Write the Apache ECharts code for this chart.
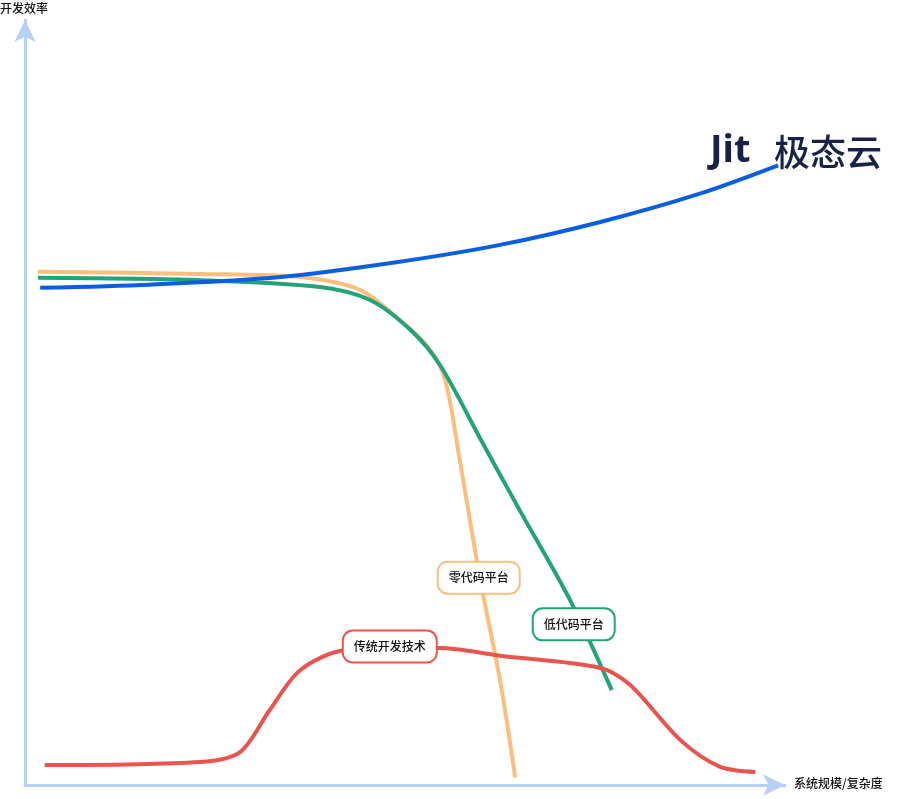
<!DOCTYPE html><html><head><meta charset="utf-8">
<script src="https://cdn.jsdelivr.net/npm/echarts@6/dist/echarts.min.js"></script>
<style>html,body{margin:0;background:#fff}#c{width:899px;height:799px}</style></head><body><div id="c"></div>
<script>
const blue=[[2.0,65.0],[16.4,65.4],[33.6,66.4],[49.3,68.4],[62.5,70.6],[75.7,73.6],[88.8,77.3],[99.1,81.0]];
const orange=[[1.7,67.1],[23,66.8],[36.2,66.4],[44.1,64.7],[49.3,60.8],[53.3,56.9],[55.3,52.9],[57.2,42.5],[59.9,26.8],[62.5,13.7],[64.5,1.0]];
const green=[[1.7,66.3],[23,66],[38.8,65.1],[45.4,63.4],[50.7,59.5],[54.6,54.9],[60,45.1],[65.1,35.9],[71.7,24.2],[77.2,12.4]];
const red=[[2.6,2.6],[23,3.0],[28.3,4.3],[32.2,9.8],[36.2,15.0],[42.1,17.6],[54.6,17.9],[62.5,16.9],[75.7,15.3],[79.6,13.1],[86.2,5.9],[91.4,2.4],[96.1,1.7]];
const labelNames=['传统开发技术','零代码平台','低代码平台'];
const labelPos=[[48.0,18.1],[59.7,27.1],[72.2,21.0]];
const labelColors=['#e8554e','#fbbf7d','#23a37a'];

const ch=echarts.init(document.getElementById('c'));
const line=(d,c)=>({type:'line',data:d,smooth:0.3,symbol:'none',lineStyle:{color:c,width:4},z:2});
ch.setOption({animation:false,
grid:{left:25,right:114,top:20,bottom:14},
xAxis:{type:'value',min:0,max:100,splitLine:{show:false},axisTick:{show:false},axisLabel:{show:false},
 axisLine:{lineStyle:{color:'#b8d0f5',width:3},symbol:['none','arrow'],symbolSize:[16,22]}},
yAxis:{type:'value',min:0,max:100,splitLine:{show:false},axisTick:{show:false},axisLabel:{show:false},
 axisLine:{lineStyle:{color:'#b8d0f5',width:3},symbol:['none','arrow'],symbolSize:[16,22]}},
series:[line(orange,'#fbbf7d'),line(green,'#23a37a'),line(blue,'#0a5fe0'),line(red,'#e8554e'),
 {type:'scatter',z:5,symbolSize:0,itemStyle:{opacity:1},data:labelNames.map((n,i)=>({value:labelPos[i],label:{show:true,position:'inside',formatter:n,
  backgroundColor:'#fff',borderColor:labelColors[i],borderWidth:2,borderRadius:9,padding:[9,10],
  color:'#111',fontSize:12,fontWeight:500,fontFamily:'Noto Sans CJK SC'}}))}],
graphic:[
 {type:'text',left:0,top:2,style:{text:'开发效率',fontSize:12,fontWeight:500,fontFamily:'Noto Sans CJK SC',fill:'#111'}},
 {type:'text',left:794,top:777,style:{text:'系统规模/复杂度',fontSize:12,fontWeight:500,fontFamily:'Noto Sans CJK SC',fill:'#111'}},
 {type:'text',left:710,top:132,style:{text:'Jit',fontSize:38,fontWeight:'bold',fontFamily:'Noto Sans',fill:'#1a2146'}},
 {type:'text',left:774,top:134,style:{text:'极态云',fontSize:36,fontWeight:500,fontFamily:'Noto Sans CJK SC',fill:'#1a2146'}}
]});
</script></body></html>
